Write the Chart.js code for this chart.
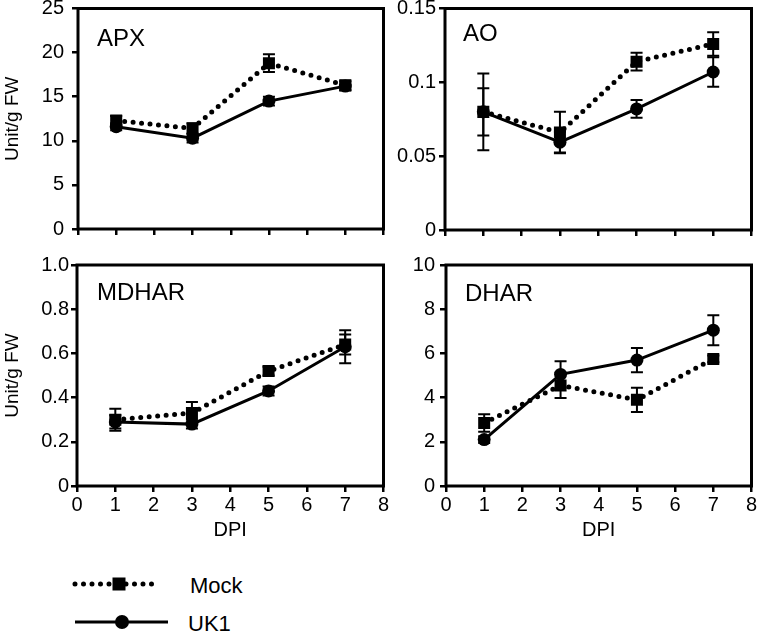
<!DOCTYPE html>
<html><head><meta charset="utf-8">
<script src="https://cdn.jsdelivr.net/npm/chart.js@4/dist/chart.umd.min.js"></script>
<style>
html,body{margin:0;padding:0;background:#fff;}
#wrap{position:relative;width:760px;height:634px;overflow:hidden;background:#fff;font-family:"Liberation Sans",Arial,sans-serif;}
canvas{position:absolute;}
svg{position:absolute;left:0;top:560px;}
</style></head><body>
<div id="wrap">
<canvas id="c1" width="392" height="240" style="left:0;top:0"></canvas>
<canvas id="c2" width="388" height="240" style="left:372px;top:0"></canvas>
<canvas id="c3" width="392" height="302" style="left:0;top:240px"></canvas>
<canvas id="c4" width="388" height="302" style="left:372px;top:240px"></canvas>
<svg width="300" height="74" viewBox="0 0 300 74">
  <line x1="75" y1="24" x2="160" y2="24" stroke="#000" stroke-width="5" stroke-dasharray="0 8.5" stroke-linecap="round"/>
  <rect x="112.5" y="17.5" width="13" height="13" fill="#000"/>
  <text x="190" y="25" dominant-baseline="central" font-family="Liberation Sans, Arial, sans-serif" font-size="22">Mock</text>
  <line x1="75" y1="62" x2="168" y2="62" stroke="#000" stroke-width="3"/>
  <circle cx="122" cy="62" r="7" fill="#000"/>
  <text x="188" y="63" dominant-baseline="central" font-family="Liberation Sans, Arial, sans-serif" font-size="22">UK1</text>
</svg>
</div>
<script>
// ---- data ----
const days = [1, 3, 5, 7];
const xTicks = [0, 1, 2, 3, 4, 5, 6, 7, 8];
const xTickLabels = ['0', '1', '2', '3', '4', '5', '6', '7', '8'];

const apxTicks = [0, 5, 10, 15, 20, 25];
const apxTickLabels = ['0', '5', '10', '15', '20', '25'];
const apxMock = [12.3, 11.4, 18.8, 16.3];
const apxMockErr = [0.5, 0.6, 1.0, 0.5];
const apxUK1 = [11.6, 10.3, 14.5, 16.2];
const apxUK1Err = [0.4, 0.5, 0.5, 0.5];

const aoTicks = [0, 0.05, 0.1, 0.15];
const aoTickLabels = ['0', '0.05', '0.1', '0.15'];
const aoMock = [0.080, 0.066, 0.114, 0.126];
const aoMockErr = [0.026, 0.014, 0.006, 0.008];
const aoUK1 = [0.080, 0.0595, 0.082, 0.107];
const aoUK1Err = [0.016, 0.007, 0.006, 0.010];

const mdharTicks = [0, 0.2, 0.4, 0.6, 0.8, 1.0];
const mdharTickLabels = ['0', '0.2', '0.4', '0.6', '0.8', '1.0'];
const mdharMock = [0.30, 0.33, 0.52, 0.64];
const mdharMockErr = [0.05, 0.05, 0.02, 0.045];
const mdharUK1 = [0.29, 0.28, 0.43, 0.63];
const mdharUK1Err = [0.03, 0.02, 0.02, 0.075];

const dharTicks = [0, 2, 4, 6, 8, 10];
const dharTickLabels = ['0', '2', '4', '6', '8', '10'];
const dharMock = [2.85, 4.55, 3.9, 5.75];
const dharMockErr = [0.4, 0.57, 0.55, 0.15];
const dharUK1 = [2.1, 5.05, 5.7, 7.05];
const dharUK1Err = [0.15, 0.6, 0.55, 0.68];

const FONT = '"Liberation Sans", Arial, sans-serif';

const errorBars = {
  id: 'errorBars',
  beforeDatasetsDraw(chart) {
    const ctx = chart.ctx, xs = chart.scales.x, ys = chart.scales.y;
    ctx.save();
    ctx.strokeStyle = '#000'; ctx.lineWidth = 2; ctx.setLineDash([]);
    chart.data.datasets.forEach(ds => {
      ds.data.forEach((p, i) => {
        const e = ds.errors[i];
        const px = xs.getPixelForValue(p.x);
        const y1 = ys.getPixelForValue(p.y + e), y2 = ys.getPixelForValue(p.y - e);
        ctx.beginPath();
        ctx.moveTo(px, y1); ctx.lineTo(px, y2);
        ctx.moveTo(px - 6, y1); ctx.lineTo(px + 6, y1);
        ctx.moveTo(px - 6, y2); ctx.lineTo(px + 6, y2);
        ctx.stroke();
      });
    });
    ctx.restore();
  }
};

const frameAndName = {
  id: 'frameAndName',
  afterDraw(chart, args, opts) {
    const ctx = chart.ctx, a = chart.chartArea;
    ctx.save();
    ctx.strokeStyle = '#000'; ctx.lineWidth = 3;
    ctx.strokeRect(a.left, a.top, a.right - a.left, a.bottom - a.top);
    ctx.fillStyle = '#000';
    ctx.font = '24px ' + FONT;
    ctx.textBaseline = 'middle'; ctx.textAlign = 'left';
    ctx.fillText(opts.name, a.left + opts.dx, a.top + opts.dy);
    ctx.restore();
  }
};

function makePanel(id, p) {
  const mk = (vals) => days.map((d, i) => ({x: d, y: vals[i]}));
  new Chart(document.getElementById(id), {
    type: 'scatter',
    data: {
      datasets: [
        {label: 'Mock', data: mk(p.mock), errors: p.mockErr, showLine: true,
         borderColor: '#000', backgroundColor: '#000', borderWidth: 5,
         borderDash: [0, 8.5], borderCapStyle: 'round',
         pointStyle: 'rect', pointRadius: 8.5, pointBorderWidth: 0},
        {label: 'UK1', data: mk(p.uk1), errors: p.uk1Err, showLine: true,
         borderColor: '#000', backgroundColor: '#000', borderWidth: 3,
         pointStyle: 'circle', pointRadius: 6.5, pointBorderWidth: 0}
      ]
    },
    options: {
      responsive: false, animation: false,
      layout: {padding: {top: p.padTop, right: p.padRight, left: 0, bottom: 0}},
      plugins: {legend: {display: false}, tooltip: {enabled: false},
                frameAndName: {name: p.name, dx: p.dx, dy: p.dy}},
      scales: {
        x: {
          type: 'linear', min: 0, max: 8,
          afterBuildTicks: s => { s.ticks = xTicks.map(v => ({value: v})); },
          afterFit: s => { s.height = p.xh; s.paddingLeft = 0; s.paddingRight = 0; },
          ticks: {display: p.showX, color: '#000', font: {family: FONT, size: 20},
                  padding: 1, maxRotation: 0, autoSkip: false,
                  callback: (v, i) => xTickLabels[i]},
          grid: {display: true, drawOnChartArea: false, drawTicks: true, tickLength: 6, lineWidth: 2.5, color: '#000'},
          border: {display: false},
          title: {display: p.showX, text: 'DPI', color: '#000', font: {family: FONT, size: 20}, padding: {top: 0, bottom: 0}}
        },
        y: {
          type: 'linear', min: p.yTicks[0], max: p.yTicks[p.yTicks.length - 1],
          afterBuildTicks: s => { s.ticks = p.yTicks.map(v => ({value: v})); },
          afterFit: s => { s.width = p.yw; s.paddingTop = 0; s.paddingBottom = 0; },
          ticks: {color: '#000', font: {family: FONT, size: 20}, padding: p.yPad, autoSkip: false,
                  callback: (v, i) => p.yLabels[i]},
          grid: {display: true, drawOnChartArea: false, drawTicks: true, tickLength: 6, lineWidth: 2.5, color: '#000'},
          border: {display: false},
          title: {display: p.showY, text: 'Unit/g FW', color: '#000', font: {family: FONT, size: 19}, padding: {top: 1, bottom: 0}}
        }
      }
    },
    plugins: [errorBars, frameAndName]
  });
}

makePanel('c1', {name: 'APX', dx: 19, dy: 31, padTop: 8, padRight: 8, yw: 78, xh: 11,
  showX: false, showY: true, yTicks: apxTicks, yLabels: apxTickLabels, yPad: 8,
  mock: apxMock, mockErr: apxMockErr, uk1: apxUK1, uk1Err: apxUK1Err});
makePanel('c2', {name: 'AO', dx: 18, dy: 26, padTop: 8, padRight: 8, yw: 73, xh: 10,
  showX: false, showY: false, yTicks: aoTicks, yLabels: aoTickLabels, yPad: 3,
  mock: aoMock, mockErr: aoMockErr, uk1: aoUK1, uk1Err: aoUK1Err});
makePanel('c3', {name: 'MDHAR', dx: 20, dy: 28.5, padTop: 25, padRight: 7, yw: 77, xh: 56,
  showX: true, showY: true, yTicks: mdharTicks, yLabels: mdharTickLabels, yPad: 2,
  mock: mdharMock, mockErr: mdharMockErr, uk1: mdharUK1, uk1Err: mdharUK1Err});
makePanel('c4', {name: 'DHAR', dx: 19, dy: 29.5, padTop: 25, padRight: 8, yw: 74, xh: 56,
  showX: true, showY: false, yTicks: dharTicks, yLabels: dharTickLabels, yPad: 5,
  mock: dharMock, mockErr: dharMockErr, uk1: dharUK1, uk1Err: dharUK1Err});
</script>
</body></html>
